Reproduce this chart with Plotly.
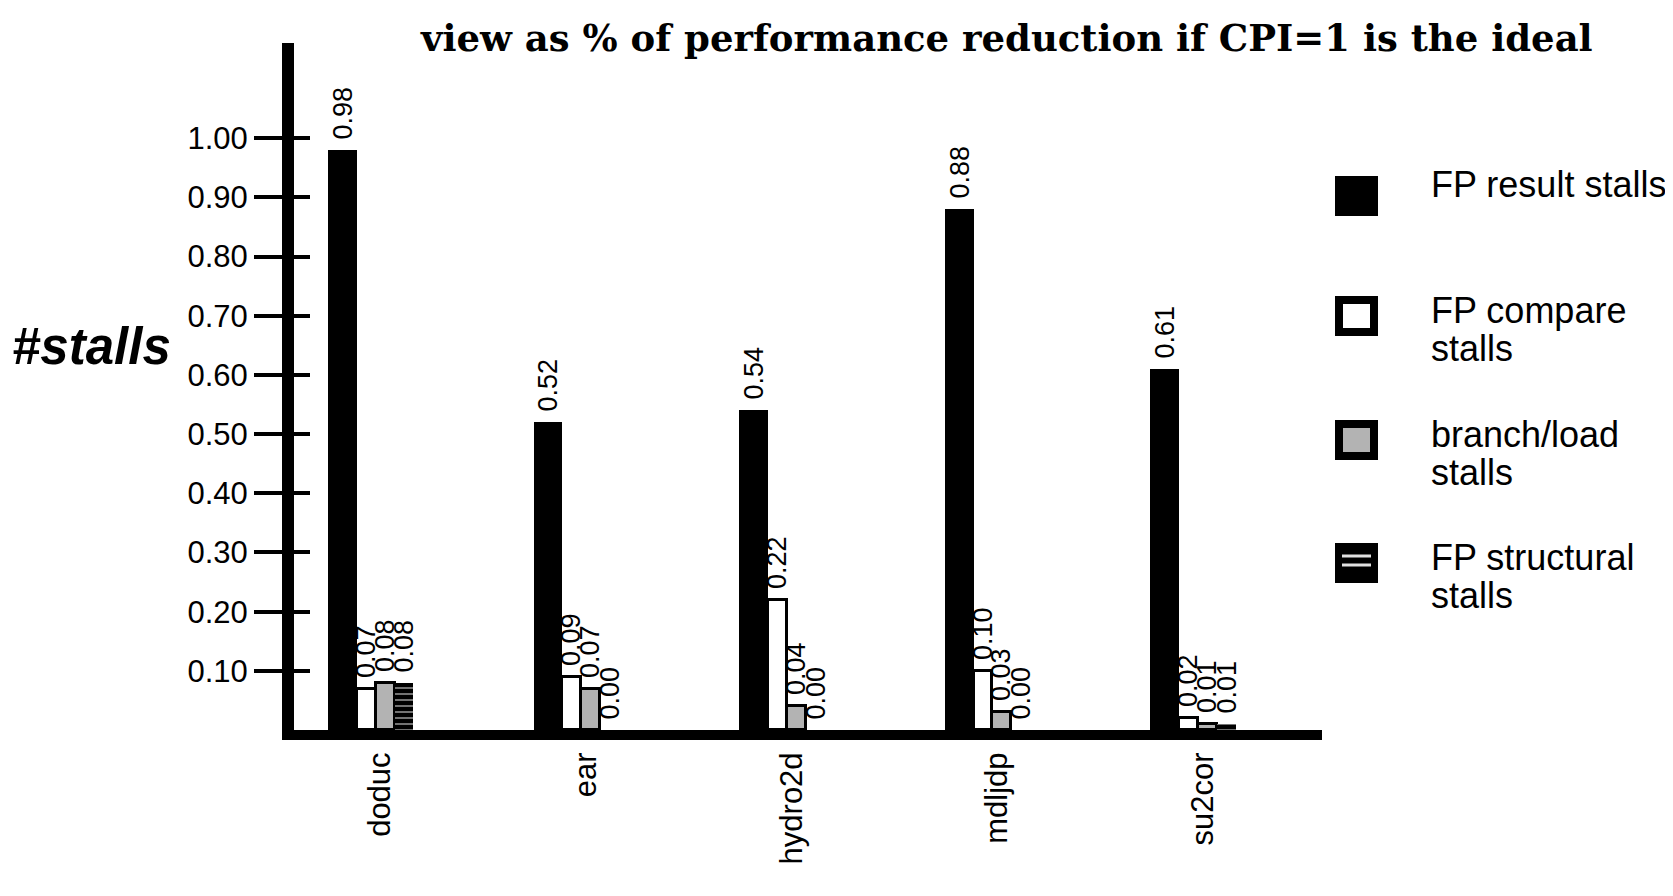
import plotly.graph_objects as go

categories = ["doduc", "ear", "hydro2d", "mdljdp", "su2cor"]
fp_result = [0.98, 0.52, 0.54, 0.88, 0.61]
fp_compare = [0.07, 0.09, 0.22, 0.10, 0.02]
branch_load = [0.08, 0.07, 0.04, 0.03, 0.01]
fp_structural = [0.08, 0.00, 0.00, 0.00, 0.01]
y_ticks = [0.10, 0.20, 0.30, 0.40, 0.50, 0.60, 0.70, 0.80, 0.90, 1.00]

W, H = 1673, 896
L, R, T, B = 286, 359, 35, 174
PW, PH = W - L - R, H - T - B
YMAX = 1.161

SANS = "Liberation Sans, Arial"
lab_font = dict(family=SANS, size=27, color="black")

fig = go.Figure()

def add(vals, name, color, line_w, width, offset, pattern=None):
    m = dict(color=color, line=dict(color="black", width=line_w))
    if pattern:
        m["pattern"] = pattern
    fig.add_trace(go.Bar(
        x=categories, y=vals, name=name, marker=m, width=width, offset=offset,
        text=["\u00a0" + f"{v:.2f}" for v in vals], textposition="outside", textangle=-90,
        constraintext="none",
        textfont=lab_font, cliponaxis=False, showlegend=False))

add(fp_result, "FP result stalls", "black", 0, 0.14, -0.255)
add(fp_compare, "FP compare stalls", "white", 3, 0.092, -0.115)
add(branch_load, "branch/load stalls", "#b3b3b3", 3, 0.092, -0.023)
add(fp_structural, "FP structural stalls", "black", 0, 0.092, 0.069,
    pattern=dict(shape="-", fgcolor="white", bgcolor="black", size=6, solidity=0.3))

fig.update_layout(
    width=W, height=H, margin=dict(l=L, r=R, t=T, b=B),
    paper_bgcolor="white", plot_bgcolor="white",
    barmode="overlay", bargap=0,
    font=dict(family=SANS, color="black"),
)

fig.update_xaxes(
    range=[-0.42, 4.58], showline=True, linewidth=10, linecolor="black",
    ticks="", tickangle=-90, tickfont=dict(family=SANS, size=31),
    showgrid=False, zeroline=False)
fig.update_yaxes(
    range=[0, YMAX], showline=True, linewidth=12, linecolor="black",
    tickvals=y_ticks, ticktext=[f"{v:.2f}" for v in y_ticks],
    ticks="outside", ticklen=28, tickwidth=4, tickcolor="black",
    tickfont=dict(family=SANS, size=31), showgrid=False, zeroline=False)
# inner half of the crossing tick marks
fig.update_layout(yaxis2=dict(
    overlaying="y", side="left", range=[0, YMAX], tickvals=y_ticks,
    ticks="inside", ticklen=16, tickwidth=4, tickcolor="black",
    showticklabels=False, showgrid=False, zeroline=False, showline=False))
fig.add_trace(go.Scatter(x=[categories[0]], y=[0], yaxis="y2", mode="markers",
                         marker=dict(opacity=0), showlegend=False, hoverinfo="skip"))

def px(x):
    return (x - L) / PW

def py(y):
    return (H - B - y) / PH

ann = []
ann.append(dict(text="<b>view as % of performance reduction if CPI=1 is the ideal</b>",
                x=px(998), y=py(30), xref="paper", yref="paper", showarrow=False,
                xanchor="center", yanchor="middle",
                font=dict(family="DejaVu Serif", size=37, color="black")))
ann.append(dict(text="<b><i>#stalls</i></b>", x=px(2), y=py(338), xref="paper", yref="paper",
                showarrow=False, xanchor="left", yanchor="middle",
                font=dict(family=SANS, size=51, color="black")))

legend_items = [
    (["FP result stalls"], 188, "black", -11),
    (["FP compare", "stalls"], 308, "white", -6),
    (["branch/load", "stalls"], 432, "#b3b3b3", -6),
    (["FP structural", "stalls"], 555, "black", -6),
]
shapes = []
sx0, sx1, half = 1327, 1370, 20
for lines, cy, fill, dy0 in legend_items:
    shapes.append(dict(type="rect", xref="paper", yref="paper",
                       x0=px(sx0 + 4), x1=px(sx1 - 4), y0=py(cy + half - 4), y1=py(cy - half + 4),
                       fillcolor=fill, line=dict(color="black", width=8)))
    for k, t in enumerate(lines):
        ann.append(dict(text=t, x=px(1421), y=py(cy + dy0 + 38 * k), xref="paper", yref="paper",
                        showarrow=False, xanchor="left", yanchor="middle", align="left",
                        font=dict(family=SANS, size=36, color="black")))
# light stripes in the structural legend symbol
for dy in (-7, 2):
    cy = 555 + dy
    shapes.append(dict(type="line", xref="paper", yref="paper",
                       x0=px(sx0 + 7), x1=px(sx1 - 7), y0=py(cy), y1=py(cy),
                       line=dict(color="#e0e0e0", width=3)))

fig.update_layout(annotations=ann, shapes=shapes)
fig.write_html("out.html")
